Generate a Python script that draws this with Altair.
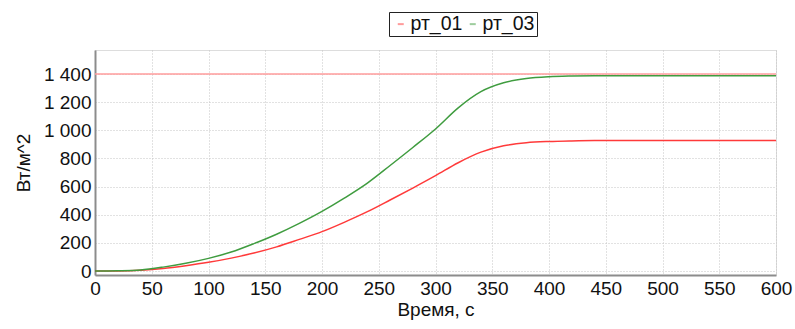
import altair as alt
import pandas as pd

time_s = list(range(0, 601, 20))
rt_01 = [0, 1, 6, 18, 38, 62, 92, 128, 172, 225, 280, 348, 422, 505, 590, 678,
         770, 845, 890, 912, 921, 925, 927, 927, 927, 927, 927, 927, 927, 927, 927]
rt_03 = [0, 2, 8, 28, 55, 90, 135, 195, 262, 339, 424, 520, 625, 750, 878, 1010,
         1160, 1275, 1338, 1368, 1381, 1386, 1388, 1388, 1388, 1388, 1388, 1388,
         1388, 1388, 1388]
series_names = ["рт_01", "рт_03"]
series_colors = ["#ff3a3a", "#3f9c3f"]
limit_value = [1400]
x_ticks = list(range(0, 601, 50))
y_ticks = list(range(0, 1401, 200))

rows = []
for name, vals in zip(series_names, [rt_01, rt_03]):
    for t, v in zip(time_s, vals):
        rows.append({"t": t, "v": v, "s": name})
df = pd.DataFrame(rows)
limit_df = pd.DataFrame({"v": limit_value})

FONT = "Liberation Sans"

xscale = alt.Scale(domain=[0, 600], nice=False)
yscale = alt.Scale(domain=[-28, 1571], nice=False)

common_axis = dict(grid=True, gridDash=[1, 2], gridColor="#c4c4c4", ticks=False,
                   labelPadding=4, labelFontSize=19, titleFontSize=19,
                   labelColor="#111", titleColor="#111", titleFontWeight="normal",
                   domainColor="#8c8c8c", domainWidth=2, labelOverlap=False,
                   labelFlush=False)

y_axis = alt.Axis(values=y_ticks, titlePadding=10,
                  labelExpr="replace(format(datum.value, ','), ',', ' ')",
                  **common_axis)

lines = alt.Chart(df).mark_line(strokeWidth=1.5, interpolate="monotone", clip=True).encode(
    x=alt.X("t:Q", scale=xscale, title="Время, с",
            axis=alt.Axis(values=x_ticks, titlePadding=2, **common_axis)),
    y=alt.Y("v:Q", scale=yscale, title="Вт/м^2", axis=y_axis),
    color=alt.Color("s:N", scale=alt.Scale(domain=series_names, range=series_colors),
                    legend=alt.Legend(title=None, orient="none", legendX=294, legendY=-38,
                                      direction="horizontal", symbolType="stroke",
                                      symbolSize=36, symbolStrokeWidth=2, symbolOpacity=0.5,
                                      labelFontSize=19.5, labelColor="#111", labelOffset=0,
                                      columnPadding=0, padding=2, fillColor="white",
                                      strokeColor="#222", symbolOffset=0)),
)

limit = alt.Chart(limit_df).mark_rule(color="#ff9c9c", strokeWidth=1.5).encode(
    y=alt.Y("v:Q", scale=yscale, title="Вт/м^2", axis=y_axis)
)

chart = alt.layer(lines, limit).properties(
    width=681, height=225,
    autosize=alt.AutoSizeParams(type="none"),
    padding={"left": 95, "top": 50, "right": 19, "bottom": 54},
).configure_view(stroke="#a8a8a8", strokeWidth=1.5).configure_axis(
    labelOverlap=False
).configure(font=FONT)

chart.save("out.html", embed_options={"renderer": "svg", "actions": False})
